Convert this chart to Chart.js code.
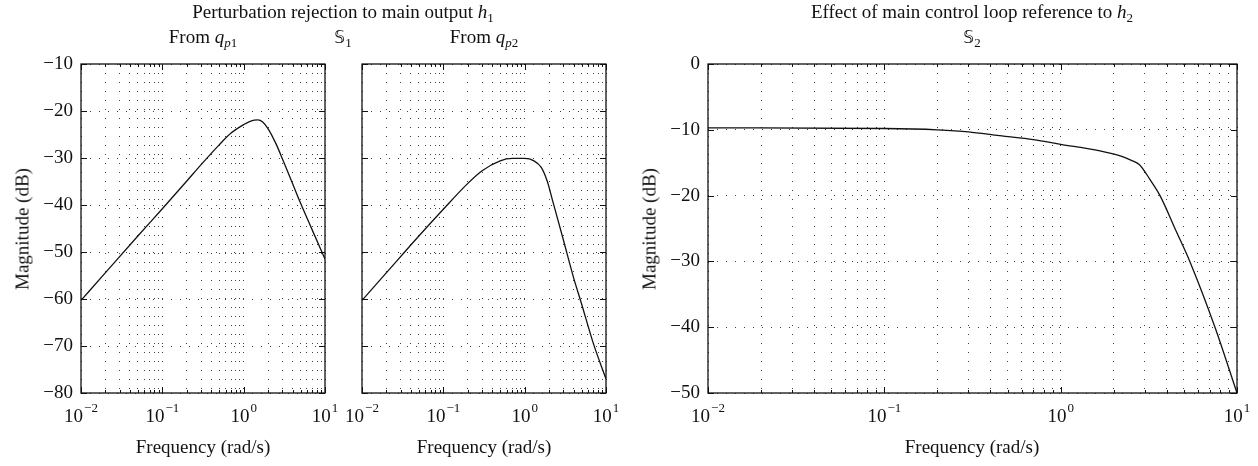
<!doctype html>
<html lang="en">
<head>
<meta charset="utf-8">
<title>Frequency response</title>
<script src="https://cdn.jsdelivr.net/npm/chart.js"></script>
<style>
  html, body { margin: 0; padding: 0; background: #fff; }
  body { width: 1258px; height: 466px; position: relative; overflow: hidden;
         font-family: "Liberation Serif", "DejaVu Serif", serif; color: #111; }
  canvas { position: absolute; top: 0; }
  .txt { position: absolute; font-size: 19px; line-height: 1; white-space: nowrap; transform: translateX(-50%); }
  .ylab { position: absolute; font-size: 19px; line-height: 1; white-space: nowrap;
          transform: translate(-50%, -50%) rotate(-90deg); }
  sub { font-size: 13px; vertical-align: -4px; line-height: 0; }
  .bb { font-family: "DejaVu Sans", "Noto Sans", sans-serif; font-size: 17px; }
</style>
</head>
<body>
<canvas id="c1" width="345" height="466" style="left:0"></canvas>
<canvas id="c2" width="285" height="466" style="left:335px"></canvas>
<canvas id="c3" width="618" height="466" style="left:640px"></canvas>

<div class="txt" style="left:343px; top:2px">Perturbation rejection to main output <i>h</i><sub>1</sub></div>
<div class="txt" style="left:203px; top:27px">From <i>q</i><sub><i>p</i>1</sub></div>
<div class="txt" style="left:343px; top:27px"><span class="bb">𝕊</span><sub>1</sub></div>
<div class="txt" style="left:484px; top:27px">From <i>q</i><sub><i>p</i>2</sub></div>
<div class="txt" style="left:972px; top:2px">Effect of main control loop reference to <i>h</i><sub>2</sub></div>
<div class="txt" style="left:972px; top:27px"><span class="bb">𝕊</span><sub>2</sub></div>

<div class="ylab" style="left:22px; top:229px">Magnitude (dB)</div>
<div class="ylab" style="left:649px; top:229px">Magnitude (dB)</div>

<div class="txt" style="left:203px; top:437px">Frequency (rad/s)</div>
<div class="txt" style="left:484px; top:437px">Frequency (rad/s)</div>
<div class="txt" style="left:972px; top:437px">Frequency (rad/s)</div>

<script>
// axis ticks
const decades = [0.01, 0.1, 1, 10];
const decadeExp = ['\u22122', '\u22121', '0', '1'];
const minorSteps = [2, 3, 4, 5, 6, 7, 8, 9];

// From q_p1
const freq1 = [0.01, 0.02, 0.05, 0.1, 0.2, 0.3, 0.5, 0.7, 1.0, 1.2, 1.5, 1.7, 2.0, 2.5, 3, 4, 5, 7, 10];
const mag1 = [-60.3, -54.4, -46.6, -40.8, -34.9, -31.4, -27.2, -24.7, -22.9, -22.2, -21.9, -22.3, -23.8, -27.0, -30.2, -35.5, -39.6, -45.4, -51.5];

// From q_p2
const freq2 = [0.01, 0.02, 0.05, 0.1, 0.2, 0.3, 0.5, 0.7, 1.0, 1.3, 1.6, 1.9, 2.2, 3, 4, 5, 7, 10];
const mag2 = [-60.3, -54.4, -46.6, -40.9, -35.4, -32.7, -30.6, -30.1, -30.1, -30.6, -32.0, -35.0, -39.0, -47.5, -55.5, -61.0, -69.5, -77.0];

// S2
const freq3 = [0.01, 0.1, 0.2, 0.3, 0.45, 0.7, 1.0, 1.67, 2.2, 2.5, 2.8, 3.2, 3.66, 4.5, 5.4, 7.5, 10];
const mag3 = [-9.7, -9.8, -10.0, -10.3, -10.9, -11.5, -12.2, -13.2, -14.0, -14.6, -15.3, -17.5, -20.0, -25.3, -30.0, -40.0, -50.0];

const font = '19px "Liberation Serif", "DejaVu Serif", serif';
const expFont = '13px "Liberation Serif", "DejaVu Serif", serif';

function logTicks(scale) {
  const list = [];
  decades.forEach((d, i) => {
    list.push({ value: d, major: true });
    if (i < decades.length - 1) minorSteps.forEach(m => list.push({ value: +(d * m).toPrecision(3), major: false }));
  });
  scale.ticks = list;
}

const frame = {
  id: 'frame',
  afterDraw(chart, args, opts) {
    const { ctx, chartArea: a, scales: { x, y } } = chart;
    ctx.save();
    ctx.strokeStyle = '#111';
    ctx.lineWidth = 1;
    ctx.beginPath();
    x.ticks.forEach(t => {
      const px = Math.round(x.getPixelForValue(t.value)) + 0.5;
      const len = t.major ? 6 : 3;
      ctx.moveTo(px, a.bottom); ctx.lineTo(px, a.bottom - len);
      ctx.moveTo(px, a.top); ctx.lineTo(px, a.top + len);
    });
    y.ticks.forEach(t => {
      const py = Math.round(y.getPixelForValue(t.value)) + 0.5;
      ctx.moveTo(a.left, py); ctx.lineTo(a.left + 6, py);
      ctx.moveTo(a.right, py); ctx.lineTo(a.right - 6, py);
    });
    ctx.stroke();
    ctx.lineWidth = 1.3;
    ctx.strokeRect(a.left, a.top, a.right - a.left, a.bottom - a.top);

    ctx.fillStyle = '#111';
    if (opts.yLabels) {
      ctx.font = font;
      ctx.textAlign = 'right';
      ctx.textBaseline = 'middle';
      y.ticks.forEach(t => {
        ctx.fillText(String(t.value).replace('-', '\u2212'), a.left - 8, y.getPixelForValue(t.value));
      });
    }
    ctx.textAlign = 'left';
    ctx.textBaseline = 'alphabetic';
    decades.forEach((d, i) => {
      ctx.font = font;
      const w1 = ctx.measureText('10').width;
      ctx.font = expFont;
      const w2 = ctx.measureText(decadeExp[i]).width;
      const x0 = x.getPixelForValue(d) - (w1 + w2 + 1) / 2;
      ctx.font = font;
      ctx.fillText('10', x0, a.bottom + 29);
      ctx.font = expFont;
      ctx.fillText(decadeExp[i], x0 + w1 + 1, a.bottom + 19);
    });
    ctx.restore();
  }
};

function makeChart(id, freq, mag, ymin, ymax, pad, yLabels) {
  return new Chart(document.getElementById(id), {
    type: 'line',
    data: {
      datasets: [{
        data: freq.map((f, i) => ({ x: f, y: mag[i] })),
        borderColor: '#111',
        borderWidth: 1.3,
        pointRadius: 0,
        fill: false,
        cubicInterpolationMode: 'monotone'
      }]
    },
    options: {
      responsive: false,
      animation: false,
      events: [],
      layout: { padding: pad, autoPadding: false },
      plugins: { legend: { display: false }, tooltip: { enabled: false }, frame: { yLabels } },
      scales: {
        x: {
          type: 'logarithmic', min: 0.01, max: 10,
          afterBuildTicks: logTicks,
          ticks: { display: false },
          grid: { color: 'rgba(0,0,0,0.75)', lineWidth: 1, drawTicks: false },
          border: { display: false, dash: [1, 8] }
        },
        y: {
          min: ymin, max: ymax,
          ticks: { display: false, stepSize: 10 },
          grid: { color: 'rgba(0,0,0,0.75)', lineWidth: 1, drawTicks: false },
          border: { display: false, dash: [1, 8] }
        }
      }
    },
    plugins: [frame]
  });
}

makeChart('c1', freq1, mag1, -80, -10, { left: 81, right: 20, top: 64, bottom: 73 }, true);
makeChart('c2', freq2, mag2, -80, -10, { left: 27, right: 14, top: 64, bottom: 73 }, false);
makeChart('c3', freq3, mag3, -50, 0, { left: 68, right: 21, top: 64, bottom: 73 }, true);
</script>
</body>
</html>
